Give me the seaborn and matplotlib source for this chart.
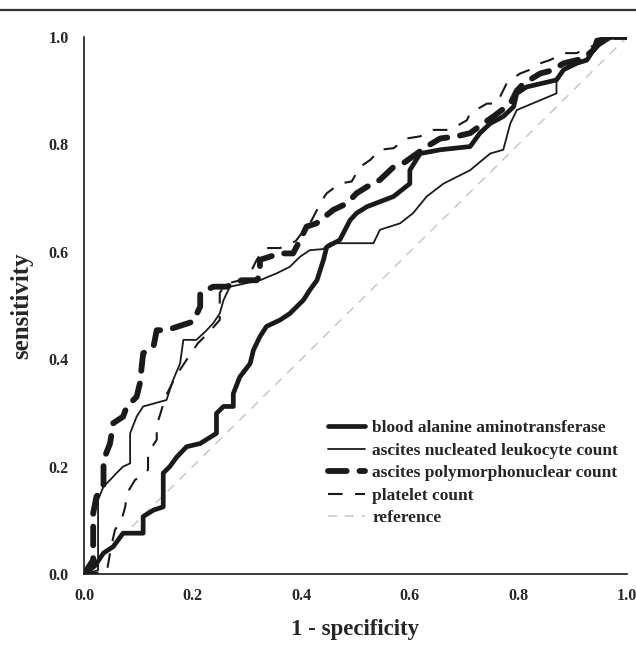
import matplotlib
matplotlib.use("Agg")
import matplotlib.pyplot as plt
from matplotlib.lines import Line2D
import seaborn as sns

# ROC points (1 - specificity, sensitivity)
alt_x = [0, 0.02, 0.036, 0.054, 0.072, 0.109, 0.109, 0.128, 0.146, 0.146, 0.158, 0.171, 0.189, 0.214,
         0.244, 0.244, 0.257, 0.275, 0.275, 0.287, 0.306, 0.312, 0.324, 0.336, 0.361, 0.379, 0.404,
         0.416, 0.429, 0.441, 0.447, 0.471, 0.49, 0.502, 0.521, 0.570, 0.600, 0.600, 0.619, 0.656,
         0.711, 0.729, 0.748, 0.772, 0.791, 0.797, 0.815, 0.870, 0.883, 0.907, 0.926, 0.938, 0.944,
         0.975, 1.0]
alt_y = [0, 0.015, 0.039, 0.051, 0.076, 0.076, 0.107, 0.119, 0.125, 0.188, 0.2, 0.218, 0.237, 0.243,
         0.262, 0.299, 0.312, 0.312, 0.336, 0.367, 0.392, 0.417, 0.442, 0.461, 0.473, 0.485, 0.510,
         0.529, 0.547, 0.585, 0.609, 0.622, 0.659, 0.672, 0.684, 0.703, 0.727, 0.752, 0.783, 0.790,
         0.796, 0.821, 0.839, 0.852, 0.870, 0.895, 0.907, 0.920, 0.939, 0.951, 0.957, 0.976, 0.994,
         1.0, 1.0]

leu_x = [0, 0.026, 0.026, 0.036, 0.048, 0.060, 0.072, 0.085, 0.085, 0.097, 0.109, 0.152, 0.164, 0.177,
         0.183, 0.207, 0.226, 0.238, 0.250, 0.257, 0.263, 0.269, 0.324, 0.355, 0.379, 0.398, 0.416,
         0.44, 0.453, 0.533, 0.545, 0.582, 0.606, 0.631, 0.662, 0.711, 0.748, 0.772, 0.785, 0.797,
         0.870, 0.870, 0.895, 0.93, 0.944, 0.975, 1.0]
leu_y = [0, 0.007, 0.138, 0.163, 0.175, 0.188, 0.2, 0.206, 0.262, 0.293, 0.312, 0.324, 0.361, 0.392,
         0.436, 0.436, 0.454, 0.467, 0.485, 0.510, 0.523, 0.535, 0.547, 0.560, 0.572, 0.591, 0.603,
         0.605, 0.616, 0.616, 0.641, 0.653, 0.672, 0.703, 0.727, 0.752, 0.783, 0.790, 0.839, 0.864,
         0.895, 0.920, 0.951, 0.96, 0.98, 1.0, 1.0]

pmn_x = [0, 0.017, 0.017, 0.023, 0.036, 0.036, 0.048, 0.054, 0.072, 0.079, 0.097, 0.103, 0.109, 0.128,
         0.134, 0.152, 0.201, 0.214, 0.214, 0.238, 0.263, 0.290, 0.318, 0.324, 0.324, 0.361, 0.385,
         0.398, 0.41, 0.428, 0.459, 0.484, 0.502, 0.521, 0.545, 0.57, 0.588, 0.613, 0.631, 0.656,
         0.686, 0.711, 0.735, 0.754, 0.785, 0.797, 0.809, 0.84, 0.862, 0.883, 0.92, 0.938, 0.95,
         0.975, 1.0]
pmn_y = [0, 0.026, 0.113, 0.144, 0.163, 0.212, 0.243, 0.281, 0.293, 0.312, 0.330, 0.355, 0.411, 0.423,
         0.454, 0.454, 0.470, 0.498, 0.523, 0.535, 0.535, 0.547, 0.547, 0.556, 0.585, 0.597, 0.597,
         0.622, 0.647, 0.653, 0.678, 0.69, 0.709, 0.721, 0.734, 0.758, 0.765, 0.783, 0.796, 0.811,
         0.815, 0.821, 0.839, 0.852, 0.876, 0.9, 0.913, 0.932, 0.938, 0.951, 0.96, 0.976, 0.99,
         1.0, 1.0]

plt_x = [0, 0.042, 0.05, 0.057, 0.069, 0.076, 0.079, 0.094, 0.118, 0.118, 0.134, 0.134, 0.14, 0.15,
         0.17, 0.195, 0.21, 0.23, 0.25, 0.25, 0.26, 0.3, 0.309, 0.318, 0.333, 0.361, 0.39, 0.42,
         0.438, 0.447, 0.471, 0.493, 0.508, 0.527, 0.545, 0.57, 0.594, 0.619, 0.643, 0.674, 0.705,
         0.711, 0.742, 0.76, 0.778, 0.785, 0.803, 0.821, 0.84, 0.858, 0.883, 0.907, 0.93, 0.95,
         0.975, 1.0]
plt_y = [0, 0.004, 0.05, 0.082, 0.1, 0.125, 0.15, 0.175, 0.194, 0.225, 0.25, 0.277, 0.296, 0.33,
         0.37, 0.408, 0.43, 0.45, 0.473, 0.523, 0.54, 0.55, 0.566, 0.585, 0.607, 0.607, 0.62, 0.66,
         0.696, 0.709, 0.727, 0.731, 0.758, 0.771, 0.79, 0.793, 0.811, 0.815, 0.827, 0.827, 0.845,
         0.858, 0.876, 0.876, 0.913, 0.92, 0.932, 0.939, 0.951, 0.957, 0.970, 0.970, 0.98, 0.99,
         1.0, 1.0]

ref_x = [0, 1]
ref_y = [0, 1]

sns.set_style("white")
plt.rcParams["font.family"] = ["Liberation Serif", "DejaVu Serif"]
plt.rcParams["font.weight"] = "bold"

fig = plt.figure(figsize=(6.36, 6.48), dpi=100)
ax = fig.add_axes([0.132, 0.1142, 0.854, 0.8287])

sns.lineplot(x=alt_x, y=alt_y, sort=False, estimator=None, ax=ax, color="#1a1a1a",
             lw=3.4, label="blood alanine aminotransferase")
sns.lineplot(x=leu_x, y=leu_y, sort=False, estimator=None, ax=ax, color="#1a1a1a",
             lw=1.3, label="ascites nucleated leukocyte count")
sns.lineplot(x=pmn_x, y=pmn_y, sort=False, estimator=None, ax=ax, color="#1a1a1a",
             lw=4.2, linestyle=(0, (3.2, 2.2)), dash_capstyle="round",
             label="ascites polymorphonuclear count")
sns.lineplot(x=plt_x, y=plt_y, sort=False, estimator=None, ax=ax, color="#1a1a1a",
             lw=1.5, linestyle=(0, (7, 6)), label="platelet count")
sns.lineplot(x=ref_x, y=ref_y, sort=False, estimator=None, ax=ax, color="#c8c8c8",
             lw=1.1, linestyle=(0, (6, 5)), label="reference", zorder=1)

ax.set_xlim(0, 1)
ax.set_ylim(0, 1)
ax.set_xticks([0, 0.2, 0.4, 0.6, 0.8, 1.0])
ax.set_yticks([0, 0.2, 0.4, 0.6, 0.8, 1.0])
ax.set_xticklabels(["0.0", "0.2", "0.4", "0.6", "0.8", "1.0"])
ax.set_yticklabels(["0.0", "0.2", "0.4", "0.6", "0.8", "1.0"])
ax.tick_params(axis="x", length=0, labelsize=11.5, pad=10)
ax.tick_params(axis="y", length=0, labelsize=11.5, pad=11)
for lab in ax.get_xticklabels() + ax.get_yticklabels():
    lab.set_fontweight("bold")

sns.despine(ax=ax)
for s in ["left", "bottom"]:
    ax.spines[s].set_color("#1a1a1a")
    ax.spines[s].set_linewidth(1.2)

ax.set_xlabel("1 - specificity", fontsize=16.5, fontweight="bold", labelpad=11)
ax.set_ylabel("sensitivity", fontsize=18, fontweight="bold", labelpad=11)

leg = ax.legend(loc="upper left", bbox_to_anchor=(0.449, 0.287), frameon=False,
                fontsize=12.5, handlelength=2.15, handletextpad=0.4, labelspacing=0.37,
                borderpad=0, borderaxespad=0)
for t in leg.get_texts():
    t.set_fontweight("bold")

# rule across the top of the figure
fig.add_artist(Line2D([0, 1], [1 - 10 / 648] * 2, color="#333333", lw=1.6))

fig.savefig("out.png", dpi=100)
